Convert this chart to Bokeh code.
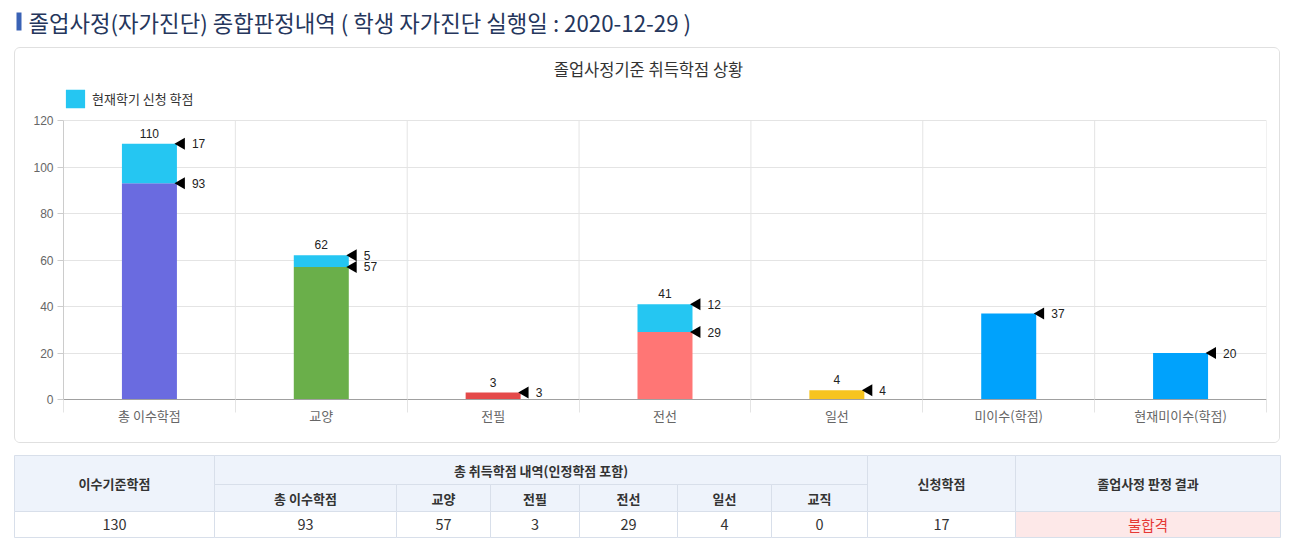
import math
from bokeh.plotting import figure
from bokeh.models import (ColumnDataSource, FactorRange, Range1d, LinearAxis, FixedTicker,
                          Legend, LegendItem, Label, Spacer)
from bokeh.transform import dodge
from bokeh.layouts import column, row
from bokeh.embed import file_html
from bokeh.resources import INLINE
from bokeh.core.properties import value

# ---------------- data ----------------
page_title = "졸업사정(자가진단) 종합판정내역 ( 학생 자가진단 실행일 : 2020-12-29 )"
chart_title = "졸업사정기준 취득학점 상황"
legend_label = "현재학기 신청 학점"

categories = ["총 이수학점", "교양", "전필", "전선", "일선", "미이수(학점)", "현재미이수(학점)"]
earned = [93, 57, 3, 29, 4, 37, 20]
current = [17, 5, 0, 12, 0, 0, 0]
total_label_categories = ["총 이수학점", "교양", "전필", "전선", "일선"]
y_ticks = [0, 20, 40, 60, 80, 100, 120]

required_credits = 130
teaching_credits = 0
applied_credits = 17
result_text = "불합격"
table_first_header = "이수기준학점"
table_group_header = "총 취득학점 내역(인정학점 포함)"
table_sub_headers = ["총 이수학점", "교양", "전필", "전선", "일선", "교직"]
table_applied_header = "신청학점"
table_result_header = "졸업사정 판정 결과"

# ---------------- styles / layout ----------------
KR = "Noto Sans CJK KR"
NUM = "Liberation Sans"
base_colors = ["#6a6be0", "#6aaf4a", "#e44a4a", "#ff7675", "#f6c41f", "#00a2fc", "#00a2fc"]
current_color = "#25c6f2"
grid_color = "#e4e4e4"

PANEL_W, PANEL_H = 1266, 396
B_LEFT, B_RIGHT, B_TOP, B_BOTTOM = 48, 15, 1, 45
FRAME_H = PANEL_H - B_TOP - B_BOTTOM
PLOT_H = 279
y_max_axis = y_ticks[-1]
y_top = y_max_axis * FRAME_H / PLOT_H

# ---------------- page title ----------------
pt = figure(width=1290, height=47, x_range=Range1d(0, 1290), y_range=Range1d(47, 0),
            x_axis_location=None, y_axis_location=None, output_backend="svg",
            toolbar_location=None, min_border=0, outline_line_color=None, title=None)
pt.frame_align = False
pt.grid.visible = False
pt.quad(left=[16], right=[21], top=[12], bottom=[30], fill_color="#3a62b5", line_color=None)
pt.text(x=[28], y=[21], text=[page_title], text_font=value(KR), text_font_size="22.3px",
        text_baseline="middle", text_align="left", text_color="#25365c")

# ---------------- chart ----------------
pc = figure(width=PANEL_W, height=PANEL_H, x_range=FactorRange(*categories), y_range=Range1d(0, y_top),
            x_axis_location=None, output_backend="svg", toolbar_location=None, title=None,
            min_border_left=B_LEFT, min_border_right=B_RIGHT, min_border_top=B_TOP,
            min_border_bottom=B_BOTTOM, outline_line_color=None)
pc.frame_align = False
pc.styles = {"border": "1px solid #e0e0e0", "border-radius": "6px", "box-sizing": "border-box",
             "overflow": "hidden"}

edges = list(range(len(categories) + 1))
pc.segment(x0=edges, y0=[0] * len(edges), x1=edges, y1=[y_max_axis] * len(edges),
           line_color=grid_color, line_width=1)

tops = [e + c for e, c in zip(earned, current)]
src = ColumnDataSource(dict(cat=categories, earned=earned, current=current, top=tops,
                            color=base_colors, earned_txt=[str(v) for v in earned]))
pc.vbar(x="cat", width=0.32, bottom=0, top="earned", fill_color="color", line_color=None, source=src)
cur = pc.vbar(x="cat", width=0.32, bottom="earned", top="top", fill_color=current_color,
              line_color=None, source=src)

pc.scatter(x=dodge("cat", 0.186, range=pc.x_range), y="earned", marker="triangle", angle=math.pi / 2,
           size=12, fill_color="black", line_color=None, source=src)
pc.text(x=dodge("cat", 0.16, range=pc.x_range), y="earned", text="earned_txt", x_offset=15,
        text_baseline="middle", text_align="left", text_font=value(NUM), text_font_size="12px",
        text_color="#222", source=src)

cur_idx = [i for i, c in enumerate(current) if c > 0]
src_cur = ColumnDataSource(dict(cat=[categories[i] for i in cur_idx], top=[tops[i] for i in cur_idx],
                                txt=[str(current[i]) for i in cur_idx]))
pc.scatter(x=dodge("cat", 0.186, range=pc.x_range), y="top", marker="triangle", angle=math.pi / 2,
           size=12, fill_color="black", line_color=None, source=src_cur)
pc.text(x=dodge("cat", 0.16, range=pc.x_range), y="top", text="txt", x_offset=15,
        text_baseline="middle", text_align="left", text_font=value(NUM), text_font_size="12px",
        text_color="#222", source=src_cur)

tot_idx = [categories.index(c) for c in total_label_categories]
src_tot = ColumnDataSource(dict(cat=[categories[i] for i in tot_idx], top=[tops[i] for i in tot_idx],
                                txt=[str(tops[i]) for i in tot_idx]))
pc.text(x="cat", y="top", text="txt", y_offset=-6, text_baseline="bottom", text_align="center",
        text_font=value(NUM), text_font_size="12px", text_color="#222", source=src_tot)

centers = [i + 0.5 for i in range(len(categories))]
xaxis = LinearAxis(ticker=FixedTicker(ticks=centers, minor_ticks=edges),
                   major_label_overrides={c: n for c, n in zip(centers, categories)},
                   major_tick_line_color=None, major_tick_out=0, major_tick_in=0,
                   minor_tick_out=13, minor_tick_in=0, minor_tick_line_color=grid_color,
                   axis_line_color="#a0a0a0", major_label_standoff=-7,
                   major_label_text_font=KR, major_label_text_font_size="13px",
                   major_label_text_color="#666666")
pc.add_layout(xaxis, "below")
pc.xgrid.visible = False

pc.yaxis.ticker = FixedTicker(ticks=y_ticks)
pc.yaxis.bounds = (0, y_max_axis)
pc.yaxis.minor_tick_line_color = None
pc.yaxis.major_tick_out = 6
pc.yaxis.major_tick_in = 0
pc.yaxis.major_tick_line_color = "#cccccc"
pc.yaxis.axis_line_color = "#cccccc"
pc.yaxis.major_label_standoff = 4
pc.yaxis.major_label_text_font = NUM
pc.yaxis.major_label_text_font_size = "12px"
pc.yaxis.major_label_text_color = "#666666"
pc.ygrid.ticker = FixedTicker(ticks=y_ticks)
pc.ygrid.grid_line_color = grid_color

legend = Legend(items=[LegendItem(label=legend_label, renderers=[cur])], location=(0, 289),
                orientation="horizontal", glyph_width=24, glyph_height=23, label_height=23,
                label_standoff=5, padding=0, margin=0, spacing=0, border_line_color=None,
                background_fill_alpha=0, label_text_font=KR, label_text_font_size="13px",
                label_text_color="#333333")
pc.add_layout(legend)

px_per_cat = (PANEL_W - B_LEFT - B_RIGHT) / len(categories)
title_x = len(categories) / 2 - (B_LEFT - B_RIGHT) / 2 / px_per_cat
title_y = (399 - 68) * y_max_axis / PLOT_H
pc.add_layout(Label(x=title_x, y=title_y, text=chart_title, text_align="center",
                    text_baseline="middle", text_font=KR, text_font_size="16.5px",
                    text_color="#333333"))

chart_row = row(Spacer(width=14, height=PANEL_H), pc, spacing=0)

# ---------------- table ----------------
pb = figure(width=1290, height=96, x_range=Range1d(0, 1290), y_range=Range1d(539, 443),
            x_axis_location=None, y_axis_location=None, output_backend="svg",
            toolbar_location=None, min_border=0, outline_line_color=None, title=None)
pb.frame_align = False
pb.grid.visible = False

col_edges = [14, 214, 396, 490, 579, 677, 771, 867, 1015, 1280]
row_edges = [455, 484, 511, 537]
head_fill = "#eef3fb"
border = "#d8dfea"

cells = []  # (left, right, top, bottom, fill, text, color, style)
cells.append((col_edges[0], col_edges[1], row_edges[0], row_edges[2], head_fill, table_first_header, "#333333", "bold"))
cells.append((col_edges[1], col_edges[7], row_edges[0], row_edges[1], head_fill, table_group_header, "#333333", "bold"))
for i, h in enumerate(table_sub_headers):
    cells.append((col_edges[i + 1], col_edges[i + 2], row_edges[1], row_edges[2], head_fill, h, "#333333", "bold"))
cells.append((col_edges[7], col_edges[8], row_edges[0], row_edges[2], head_fill, table_applied_header, "#333333", "bold"))
cells.append((col_edges[8], col_edges[9], row_edges[0], row_edges[2], head_fill, table_result_header, "#333333", "bold"))

row_values = [required_credits] + earned[:5] + [teaching_credits] + [applied_credits]
for i, v in enumerate(row_values):
    cells.append((col_edges[i], col_edges[i + 1], row_edges[2], row_edges[3], "white", str(v), "#333333", "normal"))
cells.append((col_edges[8], col_edges[9], row_edges[2], row_edges[3], "#fde8e8", result_text, "#e53935", "normal"))

tsrc = ColumnDataSource(dict(
    l=[c[0] for c in cells], r=[c[1] for c in cells], t=[c[2] for c in cells], b=[c[3] for c in cells],
    fill=[c[4] for c in cells], txt=[c[5] for c in cells], col=[c[6] for c in cells],
    style=[c[7] for c in cells],
    xc=[(c[0] + c[1]) / 2 for c in cells], yc=[(c[2] + c[3]) / 2 for c in cells],
    size=["13px" if c[7] == "bold" else "14.5px" for c in cells]))
pb.quad(left="l", right="r", top="t", bottom="b", fill_color="fill", line_color=border,
        line_width=1, source=tsrc)
pb.text(x="xc", y="yc", text="txt", text_color="col", text_font_style="style", text_font=value(KR),
        text_font_size="size", text_align="center", text_baseline="middle", source=tsrc)

layout = column(pt, chart_row, pb, spacing=0)
open("out.html", "w").write(file_html(layout, INLINE))
